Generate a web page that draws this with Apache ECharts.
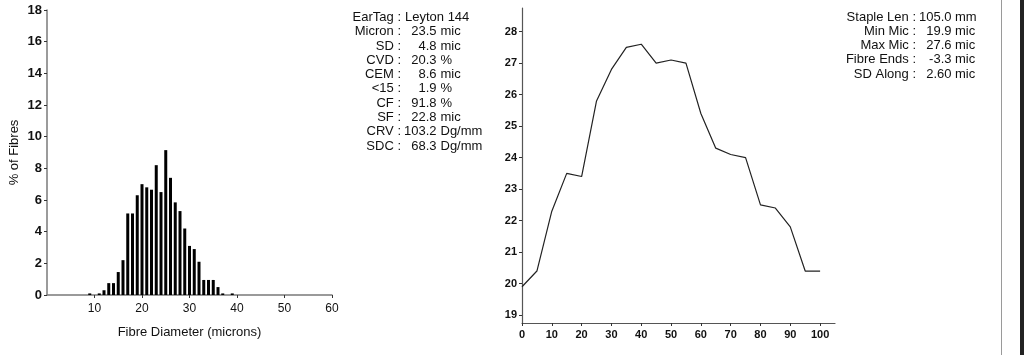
<!DOCTYPE html>
<html>
<head>
<meta charset="utf-8">
<script src="https://cdn.jsdelivr.net/npm/echarts@6/dist/echarts.min.js"></script>
<style>
html,body{margin:0;padding:0;background:#fff;}
#chart{width:1024px;height:355px;}
</style>
</head>
<body>
<div id="chart"></div>
<script>
// Histogram data: fibre diameter (microns) vs % of fibres
var diameterBins = [9,10,11,12,13,14,15,16,17,18,19,20,21,22,23,24,25,26,27,28,29,30,31,32,33,34,35,36,37,38,39];
var pctFibres    = [0.1,0,0.1,0.3,0.75,0.75,1.45,2.2,5.15,5.15,6.3,7.0,6.8,6.65,8.2,6.5,9.15,7.4,5.85,5.3,4.2,3.1,2.9,2.1,0.95,0.95,0.95,0.5,0.1,0,0.1];
var histXTicks = [10,20,30,40,50,60];

// Profile along staple
var positions  = [0,5,10,15,20,25,30,35,40,45,50,55,60,65,70,75,80,85,90,95,100];
var micronAlong = [19.9,20.4,22.3,23.5,23.4,25.8,26.8,27.5,27.6,27.0,27.1,27.0,25.4,24.3,24.1,24.0,22.5,22.4,21.8,20.4,20.4];
var profXTicks = [0,10,20,30,40,50,60,70,80,90,100];
var profYTicks = [19,20,21,22,23,24,25,26,27,28];

// Statistics text
var statLabels = ['EarTag','Micron','SD','CVD','CEM','<15','CF','SF','CRV','SDC'];
var statNums   = ['Leyton 144','23.5','4.8','20.3','8.6','1.9','91.8','22.8','103.2','68.3'];
var statUnits  = ['','mic','mic','%','mic','%','%','mic','Dg/mm','Dg/mm'];
var profLabels = ['Staple Len','Min Mic','Max Mic','Fibre Ends','SD Along'];
var profNums   = ['105.0','19.9','27.6','-3.3','2.60'];
var profUnits  = ['mm','mic','mic','mic','mic'];

var FONT = '"Liberation Sans", Arial, sans-serif';
var chart = echarts.init(document.getElementById('chart'), null, {renderer:'canvas'});

var graphics = [];
function addBlock(labels, nums, units, colonX, numRight, unitLeft, y0, dy, leftValIdx, leftValX) {
  for (var i = 0; i < labels.length; i++) {
    var y = y0 + i * dy;
    graphics.push({type:'text', x: colonX, y: y, style:{text: labels[i] + ' :', align:'right', verticalAlign:'middle', font:'13px ' + FONT, fill:'#111'}});
    if (i === leftValIdx) {
      graphics.push({type:'text', x: leftValX, y: y, style:{text: nums[i], align:'left', verticalAlign:'middle', font:'13px ' + FONT, fill:'#111'}});
    } else {
      graphics.push({type:'text', x: numRight, y: y, style:{text: nums[i], align:'right', verticalAlign:'middle', font:'13px ' + FONT, fill:'#111'}});
      graphics.push({type:'text', x: unitLeft, y: y, style:{text: units[i], align:'left', verticalAlign:'middle', font:'13px ' + FONT, fill:'#111'}});
    }
  }
}
addBlock(statLabels, statNums, statUnits, 401, 436.5, 440.5, 17.5, 14.27, 0, 405);
addBlock(profLabels, profNums, profUnits, 916, 951.5, 955, 17, 14.3, -1, 0);

// page decorations at right edge
graphics.push({type:'rect', shape:{x:1001, y:0, width:1, height:355}, style:{fill:'#9a9a9a'}});
graphics.push({type:'rect', shape:{x:1020, y:0, width:4, height:355}, style:{fill:'#222'}});

var histData = diameterBins.map(function(d, i){ return [d, pctFibres[i]]; });
var profData = positions.map(function(p, i){ return [p, micronAlong[i]]; });

chart.setOption({
  animation:false,
  backgroundColor:'#fff',
  grid:[
    {left:47, right:692, top:10, bottom:60},
    {left:522, right:189, top:8, bottom:32}
  ],
  xAxis:[
    {gridIndex:0, type:'value', min:0, max:60, interval:10,
     name:'Fibre Diameter (microns)', nameLocation:'middle', nameGap:31,
     nameTextStyle:{fontSize:13, color:'#111', fontFamily:FONT},
     axisLine:{lineStyle:{color:'#7a7a7a', width:1.5}},
     axisTick:{show:true, length:3, lineStyle:{color:'#333'}, customValues:histXTicks},
     axisLabel:{margin:8, customValues:histXTicks, color:'#111', fontSize:12, fontFamily:FONT},
     splitLine:{show:false}},
    {gridIndex:1, type:'value', min:0, max:105,
     axisLine:{lineStyle:{color:'#555', width:1.2}},
     axisTick:{show:true, length:3, lineStyle:{color:'#333'}, customValues:profXTicks},
     axisLabel:{margin:6, customValues:profXTicks, color:'#111', fontSize:11, fontWeight:'bold', fontFamily:FONT},
     splitLine:{show:false}}
  ],
  yAxis:[
    {gridIndex:0, type:'value', min:0, max:18, interval:2,
     name:'% of Fibres', nameLocation:'middle', nameGap:26,
     nameTextStyle:{fontSize:13, color:'#111', fontFamily:FONT},
     axisLine:{show:true, lineStyle:{color:'#7a7a7a', width:1.5}},
     axisTick:{show:true, length:3, lineStyle:{color:'#333'}},
     axisLabel:{margin:5, color:'#111', fontSize:13, fontWeight:'bold', fontFamily:FONT},
     splitLine:{show:false}},
    {gridIndex:1, type:'value', min:18.75, max:28.75,
     axisLine:{show:true, lineStyle:{color:'#555', width:1.2}},
     axisTick:{show:true, length:3, lineStyle:{color:'#333'}, customValues:profYTicks},
     axisLabel:{margin:5, customValues:profYTicks, color:'#111', fontSize:11, fontWeight:'bold', fontFamily:FONT},
     splitLine:{show:false}}
  ],
  series:[
    {type:'bar', xAxisIndex:0, yAxisIndex:0, data:histData, barWidth:3,
     itemStyle:{color:'#000'}},
    {type:'line', xAxisIndex:1, yAxisIndex:1, data:profData, symbol:'none',
     lineStyle:{color:'#222', width:1.2}}
  ],
  graphic:graphics
});
</script>
</body>
</html>
